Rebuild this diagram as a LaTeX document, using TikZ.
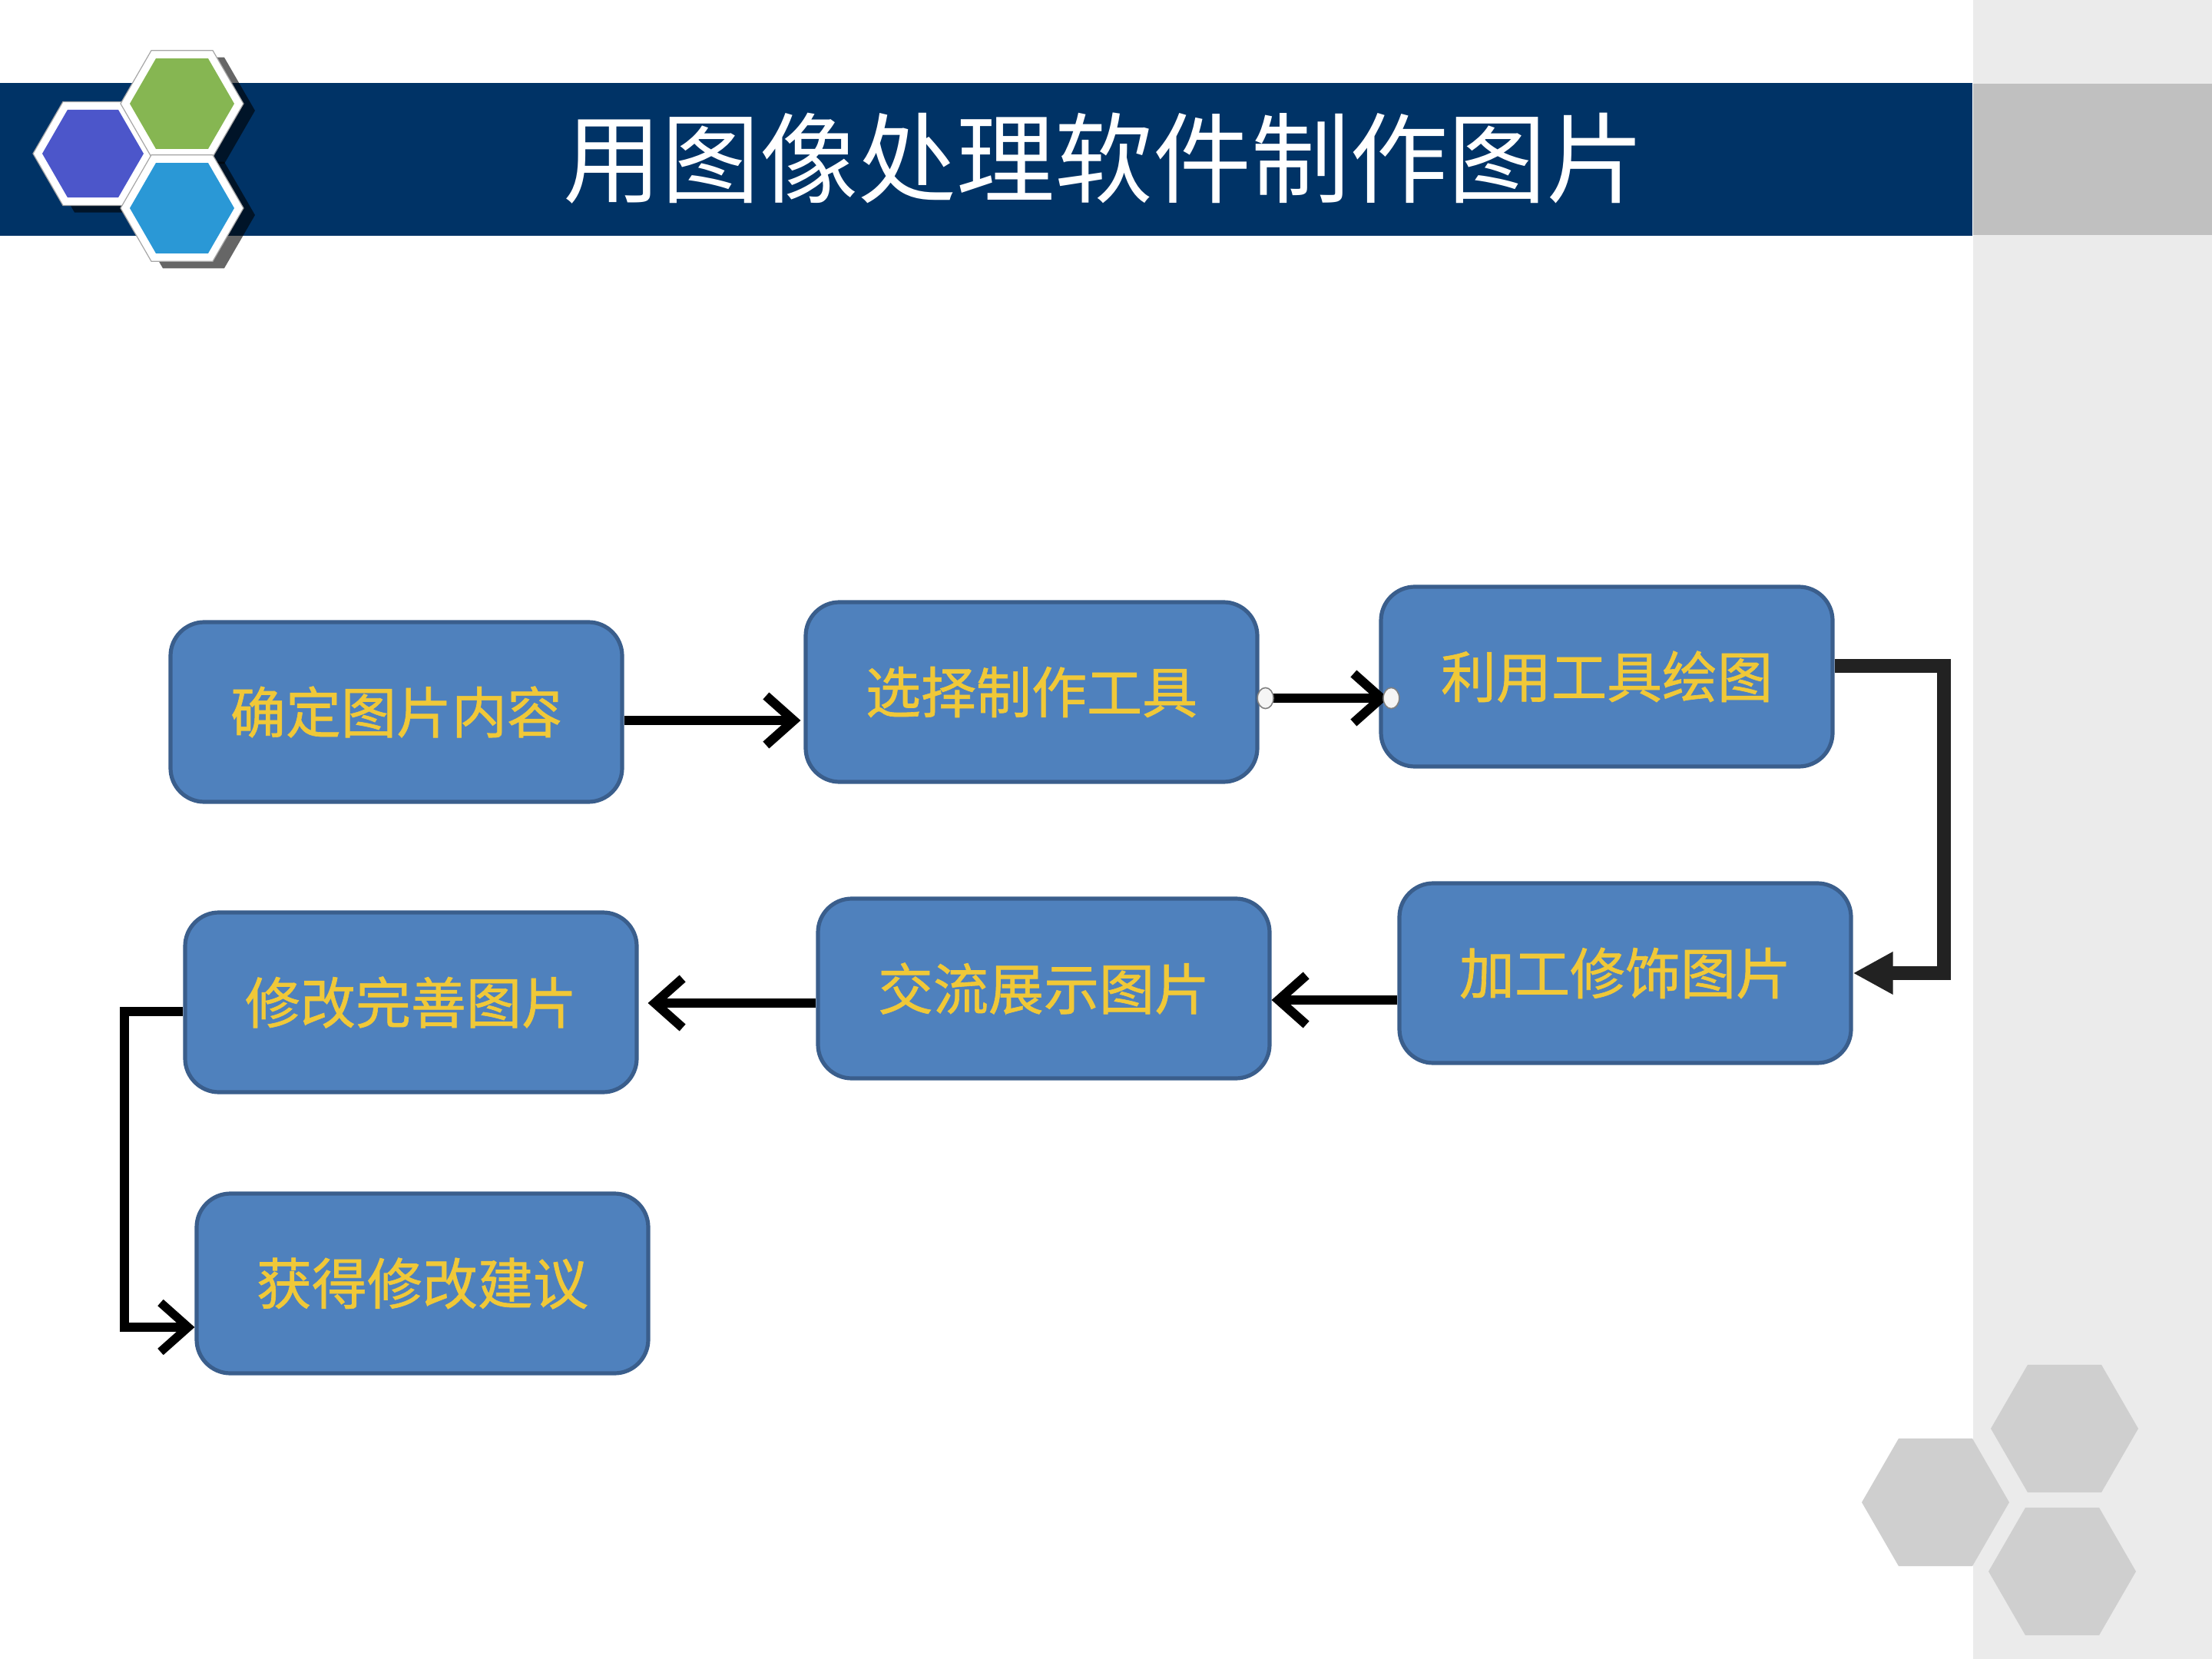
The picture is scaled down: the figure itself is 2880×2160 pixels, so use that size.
\documentclass[tikz,border=0pt]{standalone}
\usepackage{fontspec}
\newfontfamily\cjk{Noto Sans CJK SC}
\newfontfamily\cjkbox[FakeBold=0.9]{Noto Sans CJK SC}
\usetikzlibrary{arrows.meta,calc}
\definecolor{navy}{RGB}{0,51,102}
\definecolor{sidegray}{RGB}{235,235,235}
\definecolor{bandgray}{RGB}{192,192,192}
\definecolor{hexgray}{RGB}{207,207,207}
\definecolor{hexpurple}{RGB}{76,86,202}
\definecolor{hexgreen}{RGB}{134,182,82}
\definecolor{hexblue}{RGB}{42,152,214}
\definecolor{boxfill}{RGB}{79,129,189}
\definecolor{boxline}{RGB}{58,94,140}
\definecolor{gold}{RGB}{240,200,56}
\definecolor{elbowc}{RGB}{34,34,34}
\newcommand\hexpath[3]{({(#1)+(#3)},{#2}) -- ({(#1)+0.5*(#3)},{(#2)+0.866*(#3)}) -- ({(#1)-0.5*(#3)},{(#2)+0.866*(#3)}) -- ({(#1)-(#3)},{#2}) -- ({(#1)-0.5*(#3)},{(#2)-0.866*(#3)}) -- ({(#1)+0.5*(#3)},{(#2)-0.866*(#3)}) -- cycle}
\newcommand\logohex[4]{%
  \fill[black,opacity=0.6] \hexpath{#1+15}{#2+9}{#3};
  \draw[gray!70,line width=0.3pt,fill=white] \hexpath{#1}{#2}{#3};
  \fill[#4] \hexpath{#1}{#2}{#3-12};}
\tikzset{
  stepbox/.style={draw=boxline,line width=1.3pt,fill=boxfill,rounded corners=11pt,
    minimum width=147pt,minimum height=58.5pt,inner sep=0pt,
    font=\cjkbox\fontsize{18}{18}\selectfont,text=gold},
  arr/.style={black,line width=3pt,-{Straight Barb[length=9pt,width=16pt]}},
  elbow/.style={elbowc,line width=4.5pt,line join=miter,-{Triangle[length=13pt,width=13pt]}},
  thin arr/.style={black,line width=2.8pt,line join=miter,-{Straight Barb[length=9pt,width=16pt]}},
  handle/.style={fill=white!92!gray,draw=gray,line width=0.4pt}
}
\begin{document}
\begin{tikzpicture}[x=0.25pt,y=-0.25pt]
\useasboundingbox (0,0) rectangle (2880,2160);
% background
\fill[white] (0,0) rectangle (2880,2160);
\fill[sidegray] (2569,0) rectangle (2880,2160);
\fill[navy] (0,108) rectangle (2568,307);
\fill[bandgray] (2569,109) rectangle (2880,306);
% logo hexagons
\logohex{121}{200}{78}{hexpurple}
\logohex{237}{135}{80}{hexgreen}
\logohex{237}{271}{80}{hexblue}
% title
\node[text=white,font=\cjk\fontsize{32}{32}\selectfont,inner sep=0pt] (title) at (1437,206) {用图像处理软件制作图片};
% bottom right hexagons
\fill[hexgray] \hexpath{2520}{1956}{96};
\fill[hexgray] \hexpath{2688}{1860}{96};
\fill[hexgray] \hexpath{2685}{2046}{96};
% boxes
\node[stepbox] (b1) at (516,927) {确定图片内容};
\node[stepbox] (b2) at (1343,901) {选择制作工具};
\node[stepbox] (b3) at (2092,881) {利用工具绘图};
\node[stepbox] (b4) at (2116,1267) {加工修饰图片};
\node[stepbox] (b5) at (1359,1287) {交流展示图片};
\node[stepbox] (b6) at (535,1305) {修改完善图片};
\node[stepbox] (b7) at (550,1671) {获得修改建议};
% coordinates
\coordinate (y1) at (0,938);
\coordinate (y2) at (0,909);
\coordinate (c3) at (2531,867);
\coordinate (y4) at (0,1302);
\coordinate (y5) at (0,1306);
\coordinate (y6) at (0,1317);
\coordinate (y7) at (0,1728);
\coordinate (c6) at (162,1317);
% connectors
\draw[arr] (b1.east |- y1) -- ([xshift=-1pt]b2.west |- y1);
\draw[arr] ([xshift=2pt]b2.east |- y2) -- ([xshift=3pt]b3.west |- y2);
\draw[handle] ([xshift=2pt]b2.east |- y2) ellipse (2.6pt and 3.4pt);
\draw[handle] ([xshift=4pt]b3.west |- y2) ellipse (2.6pt and 3.4pt);
\draw[elbow] (b3.east |- c3) -- (c3) |- (b4.east);
\draw[arr] (b4.west |- y4) -- (b5.east |- y4);
\draw[arr] (b5.west |- y5) -- ([xshift=3pt]b6.east |- y5);
\draw[thin arr] (b6.west |- y6) -- (c6) |- (b7.west |- y7);
\end{tikzpicture}
\end{document}
